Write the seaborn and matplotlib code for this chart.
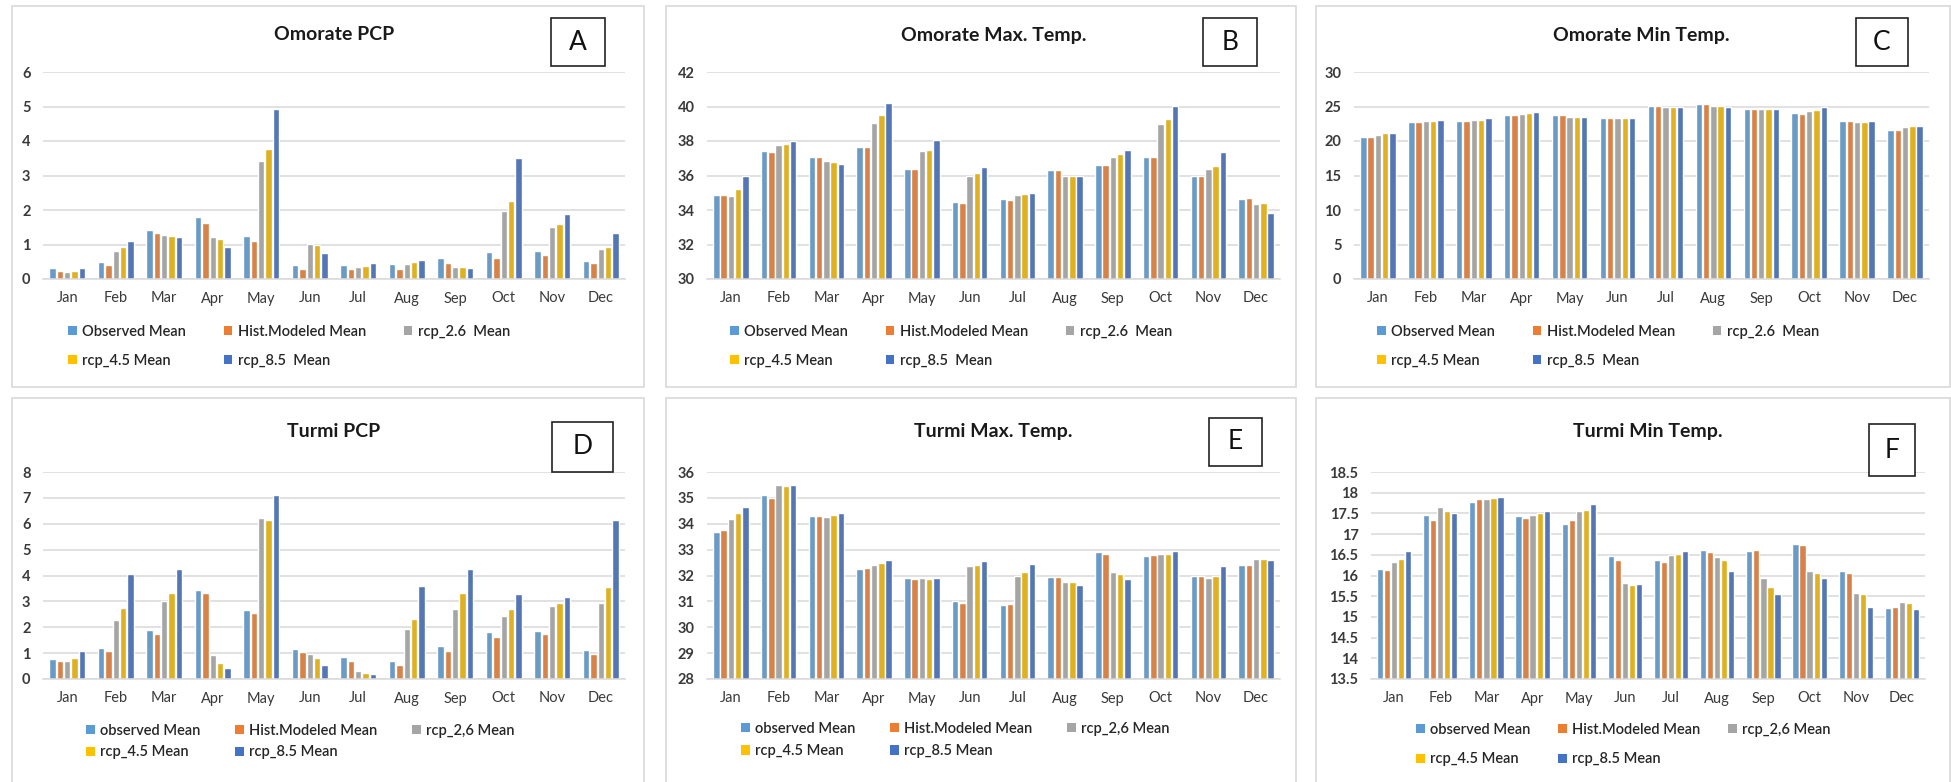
import pandas as pd
import matplotlib.pyplot as plt
import seaborn as sns
from matplotlib.patches import Patch, Rectangle
from matplotlib.ticker import FuncFormatter

months = ["Jan", "Feb", "Mar", "Apr", "May", "Jun", "Jul", "Aug", "Sep", "Oct", "Nov", "Dec"]

labels_top = ["Observed Mean", "Hist.Modeled Mean", "rcp_2.6  Mean", "rcp_4.5 Mean", "rcp_8.5  Mean"]
labels_bottom = ["observed Mean", "Hist.Modeled Mean", "rcp_2,6 Mean", "rcp_4.5 Mean", "rcp_8.5 Mean"]
colors = ["#5B9BD5", "#ED7D31", "#A5A5A5", "#FFC000", "#4472C4"]

# A - Omorate PCP
a_obs = [0.31, 0.48, 1.43, 1.79, 1.24, 0.41, 0.41, 0.44, 0.60, 0.77, 0.82, 0.53]
a_hist = [0.24, 0.41, 1.33, 1.62, 1.10, 0.28, 0.28, 0.28, 0.45, 0.60, 0.70, 0.45]
a_rcp26 = [0.21, 0.80, 1.28, 1.21, 3.41, 1.02, 0.36, 0.44, 0.36, 1.98, 1.52, 0.87]
a_rcp45 = [0.24, 0.92, 1.25, 1.17, 3.76, 0.98, 0.38, 0.48, 0.36, 2.27, 1.59, 0.92]
a_rcp85 = [0.31, 1.10, 1.22, 0.92, 4.94, 0.76, 0.45, 0.54, 0.31, 3.50, 1.89, 1.33]

# B - Omorate Max. Temp.
b_obs = [34.85, 37.40, 37.05, 37.65, 36.40, 34.45, 34.65, 36.30, 36.60, 37.10, 36.00, 34.65]
b_hist = [34.85, 37.35, 37.10, 37.65, 36.40, 34.40, 34.60, 36.30, 36.60, 37.10, 35.95, 34.70]
b_rcp26 = [34.80, 37.75, 36.85, 39.05, 37.40, 36.00, 34.85, 36.00, 37.10, 39.00, 36.40, 34.35]
b_rcp45 = [35.20, 37.80, 36.80, 39.50, 37.45, 36.15, 34.90, 36.00, 37.25, 39.25, 36.55, 34.40]
b_rcp85 = [36.00, 38.00, 36.65, 40.20, 38.05, 36.50, 35.00, 35.98, 37.50, 40.05, 37.35, 33.85]

# C - Omorate Min Temp.
c_obs = [20.6, 22.7, 22.9, 23.8, 23.7, 23.4, 25.1, 25.4, 24.6, 24.0, 22.9, 21.6]
c_hist = [20.6, 22.7, 22.9, 23.8, 23.8, 23.4, 25.1, 25.4, 24.6, 23.9, 22.9, 21.6]
c_rcp26 = [20.9, 22.9, 23.1, 23.9, 23.5, 23.4, 25.0, 25.1, 24.6, 24.4, 22.8, 22.0]
c_rcp45 = [21.1, 22.9, 23.1, 24.0, 23.5, 23.3, 25.0, 25.1, 24.6, 24.5, 22.8, 22.2]
c_rcp85 = [21.2, 23.05, 23.3, 24.2, 23.5, 23.3, 25.0, 25.0, 24.6, 24.9, 22.9, 22.2]

# D - Turmi PCP
d_obs = [0.77, 1.18, 1.88, 3.45, 2.66, 1.16, 0.84, 0.71, 1.26, 1.83, 1.84, 1.12]
d_hist = [0.71, 1.08, 1.75, 3.32, 2.57, 1.03, 0.68, 0.54, 1.09, 1.61, 1.75, 0.96]
d_rcp26 = [0.71, 2.28, 3.01, 0.93, 6.23, 0.96, 0.32, 1.93, 2.69, 2.43, 2.82, 2.93]
d_rcp45 = [0.80, 2.75, 3.32, 0.63, 6.16, 0.80, 0.23, 2.30, 3.32, 2.69, 2.92, 3.56]
d_rcp85 = [1.09, 4.06, 4.27, 0.44, 7.10, 0.54, 0.18, 3.59, 4.27, 3.29, 3.15, 6.16]

# E - Turmi Max. Temp.
e_obs = [33.70, 35.10, 34.30, 32.25, 31.90, 31.00, 30.85, 31.95, 32.90, 32.75, 32.00, 32.40]
e_hist = [33.75, 35.00, 34.30, 32.30, 31.85, 30.95, 30.90, 31.95, 32.85, 32.80, 32.00, 32.40]
e_rcp26 = [34.20, 35.50, 34.25, 32.40, 31.90, 32.35, 32.00, 31.75, 32.15, 32.85, 31.90, 32.65]
e_rcp45 = [34.40, 35.45, 34.35, 32.50, 31.85, 32.40, 32.15, 31.75, 32.05, 32.85, 32.00, 32.65]
e_rcp85 = [34.65, 35.50, 34.40, 32.60, 31.92, 32.55, 32.45, 31.65, 31.85, 32.95, 32.35, 32.60]

# F - Turmi Min Temp.
f_obs = [16.15, 17.45, 17.77, 17.43, 17.25, 16.48, 16.38, 16.62, 16.58, 16.77, 16.10, 15.22]
f_hist = [16.13, 17.35, 17.85, 17.40, 17.33, 16.38, 16.32, 16.57, 16.62, 16.73, 16.05, 15.25]
f_rcp26 = [16.33, 17.65, 17.85, 17.47, 17.55, 15.82, 16.50, 16.45, 15.95, 16.12, 15.58, 15.37]
f_rcp45 = [16.40, 17.55, 17.87, 17.52, 17.58, 15.78, 16.52, 16.38, 15.73, 16.07, 15.55, 15.33]
f_rcp85 = [16.58, 17.50, 17.90, 17.57, 17.73, 15.80, 16.60, 16.12, 15.55, 15.93, 15.25, 15.20]

ticks_a = [0, 1, 2, 3, 4, 5, 6]
ticks_b = [30, 32, 34, 36, 38, 40, 42]
ticks_c = [0, 5, 10, 15, 20, 25, 30]
ticks_d = [0, 1, 2, 3, 4, 5, 6, 7, 8]
ticks_e = [28, 29, 30, 31, 32, 33, 34, 35, 36]
ticks_f = [13.5, 14, 14.5, 15, 15.5, 16, 16.5, 17, 17.5, 18, 18.5]

sns.set_style("white")
plt.rcParams["font.family"] = ["Lato", "DejaVu Sans"]

W, H = 1951, 782
fig = plt.figure(figsize=(W / 100, H / 100), dpi=100)


def px_rect(x0, y0, x1, y1):
    return [x0 / W, 1 - y1 / H, (x1 - x0) / W, (y1 - y0) / H]


# panel frames (x0, y0, x1, y1)
frames = [(12, 6, 644, 387), (666, 6, 1296, 387), (1316, 6, 1950, 387),
          (12, 398, 644, 790), (666, 398, 1296, 790), (1316, 398, 1950, 790)]
for x0, y0, x1, y1 in frames:
    fig.patches.append(Rectangle((x0 / W, 1 - y1 / H), (x1 - x0) / W, (y1 - y0) / H,
                                 transform=fig.transFigure, fill=False,
                                 edgecolor="#D9D9D9", lw=1.2))

panels = [
    dict(title="Omorate PCP", letter="A", data=[a_obs, a_hist, a_rcp26, a_rcp45, a_rcp85],
         labels=labels_top, ticks=ticks_a, area=(43, 72, 625, 279), box=(551, 18, 605, 66),
         leg=(68, 325), lspace=1.0, cspace=2.6),
    dict(title="Omorate Max. Temp.", letter="B", data=[b_obs, b_hist, b_rcp26, b_rcp45, b_rcp85],
         labels=labels_top, ticks=ticks_b, area=(707, 72, 1280, 279), box=(1203, 18, 1257, 66),
         leg=(730, 325), lspace=1.0, cspace=2.6),
    dict(title="Omorate Min Temp.", letter="C", data=[c_obs, c_hist, c_rcp26, c_rcp45, c_rcp85],
         labels=labels_top, ticks=ticks_c, area=(1354, 72, 1929, 279), box=(1856, 18, 1908, 66),
         leg=(1377, 325), lspace=1.0, cspace=2.6),
    dict(title="Turmi PCP", letter="D", data=[d_obs, d_hist, d_rcp26, d_rcp45, d_rcp85],
         labels=labels_bottom, ticks=ticks_d, area=(43, 472, 625, 679), box=(552, 422, 613, 472),
         leg=(86, 724), lspace=0.5, cspace=2.4),
    dict(title="Turmi Max. Temp.", letter="E", data=[e_obs, e_hist, e_rcp26, e_rcp45, e_rcp85],
         labels=labels_bottom, ticks=ticks_e, area=(707, 472, 1280, 679), box=(1209, 418, 1262, 466),
         leg=(741, 722), lspace=0.55, cspace=2.4),
    dict(title="Turmi Min Temp.", letter="F", data=[f_obs, f_hist, f_rcp26, f_rcp45, f_rcp85],
         labels=labels_bottom, ticks=ticks_f, area=(1371, 472, 1925, 679), box=(1869, 424, 1915, 476),
         leg=(1416, 723), lspace=1.05, cspace=1.9),
]

for p in panels:
    x0, y0, x1, y1 = p["area"]
    ax = fig.add_axes(px_rect(x0, y0, x1, y1))
    rows = []
    for lab, vals in zip(p["labels"], p["data"]):
        for m, v in zip(months, vals):
            rows.append({"month": m, "value": v, "series": lab})
    df = pd.DataFrame(rows)
    sns.barplot(data=df, x="month", y="value", hue="series", order=months,
                hue_order=p["labels"], palette=colors, width=0.76, gap=0.12,
                errorbar=None, legend=False, ax=ax)
    t = p["ticks"]
    ax.set_ylim(t[0], t[-1])
    ax.set_yticks(t)
    ax.yaxis.set_major_formatter(FuncFormatter(lambda v, pos: f"{v:g}"))
    ax.set_xlim(-0.5, 11.5)
    ax.set_xlabel("")
    ax.set_ylabel("")
    ax.yaxis.grid(True, color="#D9D9D9", lw=1.1)
    ax.set_axisbelow(True)
    for s in ["left", "top", "right"]:
        ax.spines[s].set_visible(False)
    ax.spines["bottom"].set_color("#D9D9D9")
    ax.spines["bottom"].set_linewidth(1.1)
    ax.tick_params(axis="both", length=0, labelsize=10.5, labelcolor="#3a3a3a")
    ax.tick_params(axis="x", pad=9)
    ax.tick_params(axis="y", pad=9)
    for lbl in ax.get_yticklabels():
        lbl.set_fontweight("bold")

    # title
    fig.text((x0 + x1) / 2 / W, 1 - (35 if y0 < 400 else 432) / H, p["title"],
             ha="center", va="center", fontsize=14, fontweight="bold", color="#1a1a1a")

    # letter box
    bx0, by0, bx1, by1 = p["box"]
    fig.patches.append(Rectangle((bx0 / W, 1 - by1 / H), (bx1 - bx0) / W, (by1 - by0) / H,
                                 transform=fig.transFigure, fill=True, facecolor="white",
                                 edgecolor="#222222", lw=1.2))
    fig.text((bx0 + bx1) / 2 / W, 1 - (by0 + by1) / 2 / H, p["letter"], ha="center",
             va="center", fontsize=19, color="#111111")

    # legend, row-major order
    handles = [Patch(facecolor=c, edgecolor="none") for c in colors]
    order = [0, 3, 1, 4, 2]
    lx, ly = p["leg"]
    leg = fig.legend([handles[i] for i in order], [p["labels"][i] for i in order],
                     loc="upper left", bbox_to_anchor=(lx / W, 1 - ly / H), ncol=3,
                     frameon=False, fontsize=10.5, handlelength=0.6, handleheight=0.6,
                     handletextpad=0.35, columnspacing=p["cspace"], labelspacing=p["lspace"],
                     borderpad=0, borderaxespad=0, labelcolor="#262626")
    for txt in leg.get_texts():
        txt.set_fontweight("semibold")

fig.savefig("out.png", dpi=100)
